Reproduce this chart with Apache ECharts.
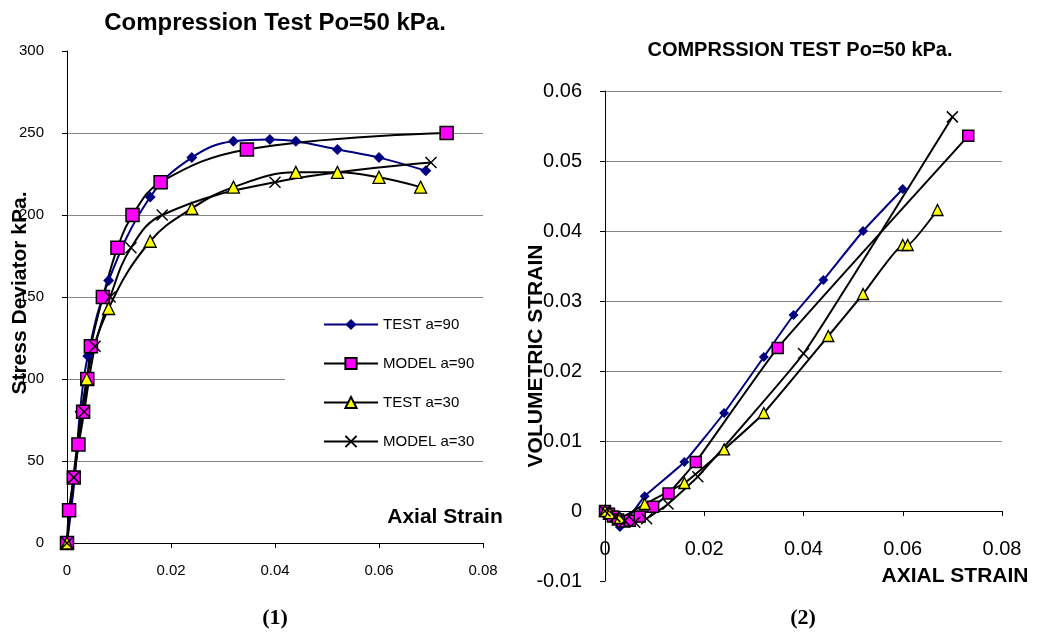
<!DOCTYPE html>
<html>
<head>
<meta charset="utf-8">
<script src="https://cdn.jsdelivr.net/npm/echarts@6/dist/echarts.min.js"></script>
<style>
  html, body { margin: 0; padding: 0; background: #fff; }
  #chart { width: 1040px; height: 638px; }
</style>
</head>
<body>
<div id="chart"></div>
<script>
// ---- Chart (1): stress deviator vs axial strain, [axial strain, kPa] ----
const stressTest90  = [[0,0],[0.0015,40],[0.0025,80],[0.004,114],[0.008,160],[0.016,211],[0.024,235],[0.032,245],[0.039,246],[0.044,245],[0.052,240],[0.060,235],[0.069,227]];
const stressModel90 = [[0,0],[0.0004,20],[0.0013,40],[0.0022,60],[0.0031,80],[0.0039,100],[0.0046,120],[0.0069,150],[0.0097,180],[0.0126,200],[0.018,220],[0.0346,240],[0.073,250]];
const stressTest30  = [[0,0],[0.0038,100],[0.008,143],[0.016,184],[0.024,204],[0.032,217],[0.044,226],[0.052,226],[0.060,223],[0.068,217]];
const stressModel30 = [[0,0],[0.0013,40],[0.0033,80],[0.0054,120],[0.0083,150],[0.0123,180],[0.0183,200],[0.040,220],[0.070,232]];

// ---- Chart (2): volumetric strain vs axial strain ----
const volTest90  = [[0,0],[0.001,-0.0008],[0.003,-0.0023],[0.008,0.0021],[0.016,0.007],[0.024,0.014],[0.032,0.022],[0.038,0.028],[0.044,0.033],[0.052,0.040],[0.060,0.046]];
const volModel90 = [[0,0],[0.0008,-0.0004],[0.0016,-0.0008],[0.0026,-0.0012],[0.0036,-0.0015],[0.005,-0.0014],[0.007,-0.0008],[0.0097,0.0006],[0.0128,0.0025],[0.0183,0.007],[0.0348,0.0233],[0.0732,0.0536]];
const volTest30  = [[0,0],[0.001,-0.0003],[0.003,-0.0010],[0.008,0.001],[0.016,0.004],[0.024,0.0088],[0.032,0.014],[0.045,0.025],[0.052,0.031],[0.060,0.038],[0.061,0.038],[0.067,0.043]];
const volModel30 = [[0,0],[0.002,-0.0008],[0.004,-0.0014],[0.006,-0.0016],[0.0084,-0.0011],[0.0127,0.001],[0.0187,0.0049],[0.040,0.0225],[0.070,0.0563]];

const seriesNames = ['TEST a=90', 'MODEL a=90', 'TEST a=30', 'MODEL a=30'];

// ---- Axis settings ----
const strainAxis = { min: 0, max: 0.08, interval: 0.02 };
const stressAxis = { min: 0, max: 300, interval: 50 };
const volAxis    = { min: -0.01, max: 0.06, interval: 0.01 };

const FONT = '"Liberation Sans", Arial, sans-serif';
const SERIF = '"Liberation Serif", "Times New Roman", serif';
const GRID_GREY = '#868686';
const X_MARK = 'path://M0,0L10,10M10,0L0,10';

const markerStyles = [
  { line: '#000080', symbol: 'diamond',  fill: '#000080', border: '#000080', bw: 0 },
  { line: '#000000', symbol: 'rect',     fill: '#ff00ff', border: '#000000', bw: 1.5 },
  { line: '#000000', symbol: 'triangle', fill: '#ffff00', border: '#000000', bw: 1.3 },
  { line: '#000000', symbol: X_MARK,     fill: '#000000', border: '#000000', bw: 1.5 }
];
const leftSizes  = [11, 13, 12, 11];
const rightSizes = [10, 11, 11, 11];

function makeSeries(name, data, gridIdx, idx, sizes, smooth) {
  const s = markerStyles[idx];
  return {
    name: name,
    type: 'line',
    xAxisIndex: gridIdx,
    yAxisIndex: gridIdx,
    data: data,
    smooth: smooth,
    symbol: s.symbol,
    symbolSize: sizes[idx],
    showAllSymbol: true,
    lineStyle: { color: s.line, width: 2 },
    itemStyle: { color: s.fill, borderColor: s.border, borderWidth: s.bw },
    emphasis: { disabled: true },
    clip: false
  };
}

function splitColors(count, hidden) {
  const arr = [];
  for (let i = 0; i < count; i++) arr.push(hidden.indexOf(i) >= 0 ? 'rgba(0,0,0,0)' : GRID_GREY);
  return arr;
}

function valueAxis(gridIdx, range, fontSize, margin, split) {
  return Object.assign({
    type: 'value',
    gridIndex: gridIdx,
    axisLine: { show: true, lineStyle: { color: '#000', width: 1 } },
    axisTick: { show: true, length: 5, lineStyle: { color: '#000' } },
    axisLabel: { color: '#000', fontSize: fontSize, fontFamily: FONT, margin: margin },
    splitLine: split
  }, range);
}

const leftData  = [stressTest90, stressModel90, stressTest30, stressModel30];
const rightData = [volTest90, volModel90, volTest30, volModel30];

const series = [];
leftData.forEach((d, i) => series.push(makeSeries(seriesNames[i], d, 0, i, leftSizes, 0.4)));
rightData.forEach((d, i) => series.push(makeSeries(seriesNames[i], d, 1, i, rightSizes, 0.12)));

function label(text, x, y, size, opts) {
  opts = opts || {};
  return {
    type: 'text',
    x: x, y: y,
    rotation: opts.rotation || 0,
    silent: true,
    z: 100,
    style: {
      text: text,
      x: 0, y: 0,
      textAlign: 'center',
      textVerticalAlign: 'middle',
      fontSize: size,
      fontWeight: 'bold',
      fontFamily: opts.family || FONT,
      fill: '#000'
    }
  };
}

// the volumetric x axis crosses at zero; its labels sit just under that line
const volXAxis = valueAxis(1, strainAxis, 20, -42, { show: false });
volXAxis.axisLine = { show: true, onZero: true, lineStyle: { color: '#000', width: 1 } };

const chart = echarts.init(document.getElementById('chart'), null, { renderer: 'canvas' });
chart.setOption({
  animation: false,
  backgroundColor: '#fff',
  grid: [
    { left: 67, top: 51, width: 416, height: 492 },
    { left: 605, top: 91, width: 397, height: 490 }
  ],
  xAxis: [
    valueAxis(0, strainAxis, 15, 20, { show: false }),
    volXAxis
  ],
  yAxis: [
    valueAxis(0, stressAxis, 15, 23, { show: true, lineStyle: { color: splitColors(7, [0, 6]), width: 1 } }),
    valueAxis(1, volAxis, 20, 23, { show: true, lineStyle: { color: splitColors(8, [0]), width: 1 } })
  ],
  legend: {
    data: seriesNames,
    orient: 'vertical',
    left: 285,
    top: 307,
    padding: [10, 16, 10, 38],
    itemWidth: 54,
    itemHeight: 14,
    itemGap: 24,
    backgroundColor: '#fff',
    selectedMode: false,
    textStyle: { color: '#000', fontSize: 15, fontFamily: FONT }
  },
  graphic: [
    label('Compression Test Po=50 kPa.', 275, 23, 24),
    label('Stress Deviator kPa.', 20, 293, 21, { rotation: Math.PI / 2 }),
    label('Axial Strain', 445, 517, 21),
    label('COMPRSSION TEST Po=50 kPa.', 800, 50, 20),
    label('VOLUMETRIC STRAIN', 536, 356, 21, { rotation: Math.PI / 2 }),
    label('AXIAL STRAIN', 955, 576, 21),
    label('(1)', 275, 618, 22, { family: SERIF }),
    label('(2)', 803, 618, 22, { family: SERIF })
  ],
  series: series
});
</script>
</body>
</html>
